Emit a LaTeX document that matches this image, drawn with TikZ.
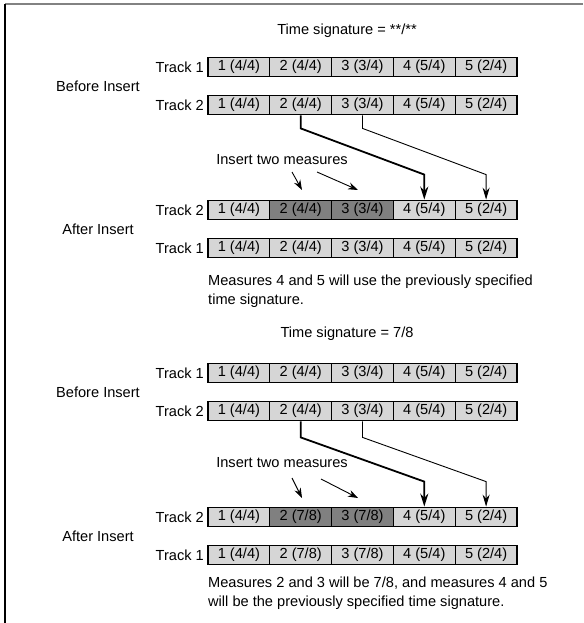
\documentclass[tikz,border=0pt]{standalone}
\usepackage{fontspec}
\setmainfont{Liberation Sans}
\usetikzlibrary{arrows.meta}
\definecolor{cellgray}{RGB}{214, 214, 214}
\definecolor{newgray}{RGB}{128, 128, 128}
\definecolor{framegray}{RGB}{130, 130, 130}

\begin{document}
\begin{tikzpicture}[x=1pt, y=-1pt,
        every node/.style={font=\fontsize{14.6}{18.5}\selectfont, inner sep=0pt},
        cell/.style={draw=black, line width=1.3pt, fill=cellgray, minimum width=61.8pt, minimum height=19.5pt},
        newcell/.style={cell, fill=newgray},
        movethick/.style={-{Stealth[length=13pt, width=8pt]}, line width=1.8pt},
        movethin/.style={-{Stealth[length=12pt, width=7pt]}, line width=0.9pt},
        hint/.style={-{Stealth[length=10pt, width=7pt]}, line width=0.9pt}
      ]
        \useasboundingbox (0,0) rectangle (583,623);
        % frame
        \draw[framegray, line width=2pt] (5,4) -- (583,4);
        \draw[black, line width=1.5pt] (5,4) -- (5,623);

        % ---- time signature **/**
        \node (title1) at (347,31) {Time signature = **/**};
        \node (before1) at (98,86) {Before Insert};
        \node[anchor=east] (t1blabel) at (204,67) {Track 1};
        \node[anchor=east] (t2blabel) at (204,105) {Track 2};
        \foreach \i/\a/\b in {1/4/4, 2/4/4, 3/3/4, 4/5/4, 5/2/4} {
          \node[cell] (t1b-\i) at ({177.1+61.8*\i}, 67) {\i\ (\a/\b)};
          \node[cell] (t2b-\i) at ({177.1+61.8*\i}, 105) {\i\ (\a/\b)};
        }
        \node (insert1) at (282,160) {Insert two measures};
        \coordinate (h1s) at (292,172);
        \coordinate (h1e) at (302,190);
        \coordinate (h2s) at (317,172);
        \coordinate (h2e) at (358,190);
        \draw[hint] (h1s) -- (h1e);
        \draw[hint] (h2s) -- (h2e);
        \node (after1) at (98,229) {After Insert};
        \node[anchor=east] (t2alabel) at (204,210) {Track 2};
        \node[anchor=east] (t1alabel) at (204,248) {Track 1};
        \foreach \i/\a/\b/\s in {1/4/4/cell, 2/4/4/newcell, 3/3/4/newcell, 4/5/4/cell, 5/2/4/cell} {
          \node[\s] (t2a-\i) at ({177.1+61.8*\i}, 210) {\i\ (\a/\b)};
        }
        \foreach \i/\a/\b in {1/4/4, 2/4/4, 3/3/4, 4/5/4, 5/2/4} {
          \node[cell] (t1a-\i) at ({177.1+61.8*\i}, 248) {\i\ (\a/\b)};
        }
        \draw[movethick] (t2b-2.south) -- ++(0,13) -- ([yshift=25pt]t2a-4.north) -- (t2a-4.north);
        \draw[movethin] (t2b-3.south) -- ++(0,13) -- ([yshift=25pt]t2a-5.north) -- (t2a-5.north);
        \node[anchor=west, align=left] (note1) at (208,291)
          {Measures 4 and 5 will use the previously specified\\time signature.};

        % ---- time signature 7/8
        \node (title2) at (347,334) {Time signature = 7/8};
        \node (before2) at (98,392) {Before Insert};
        \node[anchor=east] (u1blabel) at (204,373) {Track 1};
        \node[anchor=east] (u2blabel) at (204,411) {Track 2};
        \foreach \i/\a/\b in {1/4/4, 2/4/4, 3/3/4, 4/5/4, 5/2/4} {
          \node[cell] (u1b-\i) at ({177.1+61.8*\i}, 373) {\i\ (\a/\b)};
          \node[cell] (u2b-\i) at ({177.1+61.8*\i}, 411) {\i\ (\a/\b)};
        }
        \node (insert2) at (282,463) {Insert two measures};
        \coordinate (k1s) at (292,478);
        \coordinate (k1e) at (302,498);
        \coordinate (k2s) at (321,479);
        \coordinate (k2e) at (358,498);
        \draw[hint] (k1s) -- (k1e);
        \draw[hint] (k2s) -- (k2e);
        \node (after2) at (98,536) {After Insert};
        \node[anchor=east] (u2alabel) at (204,517) {Track 2};
        \node[anchor=east] (u1alabel) at (204,555) {Track 1};
        \foreach \i/\a/\b/\s in {1/4/4/cell, 2/7/8/newcell, 3/7/8/newcell, 4/5/4/cell, 5/2/4/cell} {
          \node[\s] (u2a-\i) at ({177.1+61.8*\i}, 517) {\i\ (\a/\b)};
        }
        \foreach \i/\a/\b in {1/4/4, 2/7/8, 3/7/8, 4/5/4, 5/2/4} {
          \node[cell] (u1a-\i) at ({177.1+61.8*\i}, 555) {\i\ (\a/\b)};
        }
        \draw[movethick] (u2b-2.south) -- ++(0,16) -- ([yshift=25pt]u2a-4.north) -- (u2a-4.north);
        \draw[movethin] (u2b-3.south) -- ++(0,16) -- ([yshift=25pt]u2a-5.north) -- (u2a-5.north);
        \node[anchor=west, align=left] (note2) at (208,593)
          {Measures 2 and 3 will be 7/8, and measures 4 and 5\\will be the previously specified time signature.};
\end{tikzpicture}
\end{document}
